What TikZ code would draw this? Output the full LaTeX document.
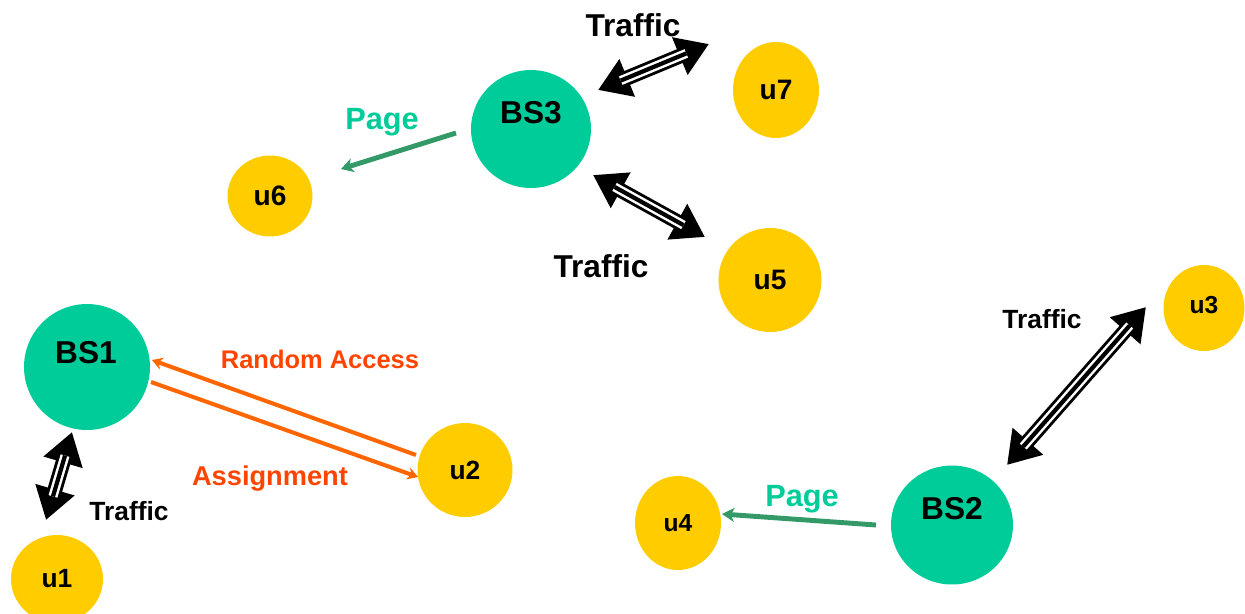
\documentclass[tikz,border=0pt]{standalone}
\usepackage{fontspec}
\setmainfont{Liberation Sans}
\usetikzlibrary{shapes.geometric,arrows.meta}

\definecolor{bsgreen}{HTML}{00CC99}
\definecolor{uyellow}{HTML}{FFCC00}
\definecolor{pagegreen}{HTML}{339966}
\definecolor{raorange}{HTML}{FF6600}
\definecolor{ratext}{HTML}{FF4400}

\begin{document}
\begin{tikzpicture}[x=0.02cm,y=-0.02cm,
  station/.style={ellipse,fill=bsgreen,draw=none,inner sep=0pt},
  user/.style={ellipse,fill=uyellow,draw=none,inner sep=0pt,font=\bfseries\fontsize{16}{16}\selectfont},
  bslabel/.style={font=\bfseries\fontsize{18}{18}\selectfont},
  traffic/.style={line width=8.5pt,
    {Triangle[length=18pt,width=22pt]}-{Triangle[length=18pt,width=22pt]},
    postaction={draw=white,line width=5.2pt,shorten <=14pt,shorten >=14pt,arrows=-},
    postaction={draw=black,line width=2.4pt,shorten <=14pt,shorten >=14pt,arrows=-}},
  pagearrow/.style={draw=pagegreen,line width=2.8pt,-{Stealth[length=7pt,width=8pt,inset=2pt]}},
  raarrow/.style={draw=raorange,line width=2.3pt,-{Stealth[length=6pt,width=7pt,inset=2pt]}},
  biglabel/.style={font=\bfseries\fontsize{18}{18}\selectfont},
  smalllabel/.style={font=\bfseries\fontsize{15}{15}\selectfont},
  pagelabel/.style={font=\bfseries\fontsize{17.5}{17.5}\selectfont,text=bsgreen},
  ralabel/.style={font=\bfseries\fontsize{14.5}{14.5}\selectfont,text=ratext}]

\useasboundingbox (0,0) rectangle (1245,613);

% base stations
\node[station,minimum width=2.40cm,minimum height=2.36cm] (BS3) at (531,129) {};
\node[station,minimum width=2.52cm,minimum height=2.52cm] (BS1) at (87,367) {};
\node[station,minimum width=2.44cm,minimum height=2.38cm] (BS2) at (952,525) {};
\node[bslabel] (BS3t) at (531,113) {BS3};
\node[bslabel] (BS1t) at (86,353) {BS1};
\node[bslabel] (BS2t) at (952,509) {BS2};

% user terminals
\node[user,minimum width=1.72cm,minimum height=1.92cm] (u7) at (776,90) {u7};
\node[user,minimum width=1.70cm,minimum height=1.62cm] (u6) at (270,196) {u6};
\node[user,minimum width=2.06cm,minimum height=2.08cm] (u5) at (770,280) {u5};
\node[user,minimum width=1.90cm,minimum height=1.88cm,font=\bfseries\fontsize{15}{15}\selectfont] (u2) at (465,470) {u2};
\node[user,minimum width=1.84cm,minimum height=1.76cm,font=\bfseries\fontsize{15}{15}\selectfont] (u1) at (57,579) {u1};
\node[user,minimum width=1.62cm,minimum height=1.72cm,font=\bfseries\fontsize{14}{14}\selectfont,text depth=0pt] (u3) at (1204,308) {\raisebox{3pt}{u3}};
\node[user,minimum width=1.72cm,minimum height=1.88cm,font=\bfseries\fontsize{14}{14}\selectfont] (u4) at (678,523) {u4};

% connector end points
\coordinate (t1a) at (598,90);   \coordinate (t1b) at (709,44);
\coordinate (t2a) at (593,175);  \coordinate (t2b) at (705,237);
\coordinate (t3a) at (72,432);   \coordinate (t3b) at (46,520);
\coordinate (t4a) at (1146,307); \coordinate (t4b) at (1007,465);
\coordinate (p1a) at (456,133);  \coordinate (p1b) at (341,169);
\coordinate (p2a) at (876,525);  \coordinate (p2b) at (722,514);
\coordinate (r1a) at (416,455);  \coordinate (r1b) at (152,360);
\coordinate (r2a) at (151,382);  \coordinate (r2b) at (418,477);

% traffic links
\draw[traffic] (t1a) -- (t1b);
\draw[traffic] (t2a) -- (t2b);
\draw[traffic] (t3a) -- (t3b);
\draw[traffic] (t4a) -- (t4b);

% paging
\draw[pagearrow] (p1a) -- (p1b);
\draw[pagearrow] (p2a) -- (p2b);

% random access and assignment
\draw[raarrow] (r1a) -- (r1b);
\draw[raarrow] (r2a) -- (r2b);

% labels
\node[biglabel] (lt1) at (633,25) {Traffic};
\node[biglabel] (lt2) at (601,266) {Traffic};
\node[smalllabel] (lt3) at (129,511) {Traffic};
\node[smalllabel] (lt4) at (1042,319) {Traffic};
\node[pagelabel] (lp1) at (382,122) {Page};
\node[pagelabel] (lp2) at (802,499) {Page};
\node[ralabel] (lra) at (320,359) {Random Access};
\node[ralabel,font=\bfseries\fontsize{15.5}{15.5}\selectfont] (las) at (270,479) {Assignment};
\end{tikzpicture}
\end{document}
